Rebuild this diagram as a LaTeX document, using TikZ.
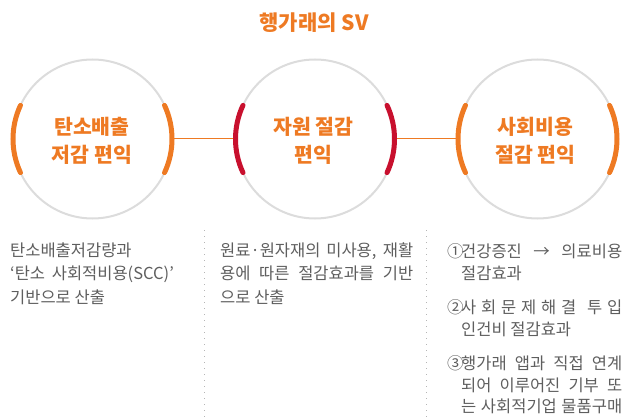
\documentclass[tikz,border=0pt]{standalone}
\usepackage{fontspec}
\setmainfont{Noto Sans CJK KR}
\definecolor{svorange}{HTML}{EE7A23}
\definecolor{svred}{HTML}{C8102E}
\definecolor{ringgray}{HTML}{DCDCDC}
\definecolor{bodygray}{HTML}{5E5E5E}
\definecolor{dotgray}{HTML}{B5B5B5}
\begin{document}
\begin{tikzpicture}[x=1pt,y=-1pt,
  ring/.style={circle,draw=ringgray,line width=2pt,minimum size=159pt,inner sep=0pt,outer sep=0pt},
  orangearc/.style={draw=svorange,line width=5pt,line cap=round},
  redarc/.style={draw=svred,line width=5pt,line cap=round},
  link/.style={draw=svorange,line width=1pt},
  ringtext/.style={text=svorange,font=\fontsize{20.5}{28}\selectfont\bfseries,align=center,inner sep=0pt},
  titletext/.style={text=svorange,font=\fontsize{21}{24}\selectfont\bfseries,inner sep=0pt},
  body/.style={text=bodygray,font=\fontsize{16.5}{20}\selectfont,anchor=base west,inner sep=0pt},
  sepline/.style={draw=dotgray,line width=1pt,dash pattern=on 1pt off 5pt}
]
\useasboundingbox (0,0) rectangle (635,417);

% title
\node[titletext] (title) at (314,22.5) {행가래의 SV};

% rings
\node[ring] (c1) at (92.5,139) {};
\node[ring] (c2) at (315,139) {};
\node[ring] (c3) at (537.5,139) {};

% links
\draw[link] (c1.east) -- (c2.west);
\draw[link] (c2.east) -- (c3.west);

% arcs
\draw[orangearc] ([shift={(-25:79.5pt)}]c1.center) arc[start angle=-25,end angle=25,radius=79.5pt];
\draw[orangearc] ([shift={(155:79.5pt)}]c1.center) arc[start angle=155,end angle=205,radius=79.5pt];
\draw[redarc] ([shift={(-25:79.5pt)}]c2.center) arc[start angle=-25,end angle=25,radius=79.5pt];
\draw[redarc] ([shift={(155:79.5pt)}]c2.center) arc[start angle=155,end angle=205,radius=79.5pt];
\draw[orangearc] ([shift={(-25:79.5pt)}]c3.center) arc[start angle=-25,end angle=25,radius=79.5pt];
\draw[orangearc] ([shift={(155:79.5pt)}]c3.center) arc[start angle=155,end angle=205,radius=79.5pt];

% ring texts
\node[ringtext] (t1) at (92,141) {탄소배출\\저감 편익};
\node[ringtext] (t2) at (313.5,141) {자원 절감\\편익};
\node[ringtext] (t3) at (535.5,141) {사회비용\\절감 편익};

% separators
\coordinate (s1top) at (204,230);
\coordinate (s1bot) at (204,417);
\coordinate (s2top) at (426,230);
\coordinate (s2bot) at (426,417);
\draw[sepline] (s1top) -- (s1bot);
\draw[sepline] (s2top) -- (s2bot);

% column 1
\node[body] (a1) at (10,256) {탄소배출저감량과};
\node[body] (a2) at (10,279.5) {‘탄소\hspace{3pt} 사회적비용(SCC)’};
\node[body] (a3) at (10,303) {기반으로 산출};

% column 2
\node[body] (b1) at (220,256) {\makebox[193pt][s]{원료·원자재의 미사용, 재활}};
\node[body] (b2) at (220,279.5) {\makebox[193pt][s]{용에 따른 절감효과를 기반}};
\node[body] (b3) at (220,303) {으로 산출};

% column 3
\node[body] (n1) at (447,257) {①};
\node[body] (d1) at (461,257) {\makebox[161pt][s]{건강증진 → 의료비용}};
\node[body] (d2) at (461,279) {절감효과};
\node[body] (n2) at (447,313) {②};
\node[body] (d3) at (461,313) {\makebox[161pt][s]{사 회 문 제 해 결\hspace{6pt} 투 입}};
\node[body] (d4) at (461,335) {인건비 절감효과};
\node[body] (n3) at (447,369) {③};
\node[body] (d5) at (461,369) {\makebox[161pt][s]{행가래 앱과 직접 연계}};
\node[body] (d6) at (461,391) {\makebox[161pt][s]{되어 이루어진 기부 또}};
\node[body] (d7) at (461,412) {\makebox[161pt][s]{는 사회적기업 물품구매}};
\end{tikzpicture}
\end{document}
